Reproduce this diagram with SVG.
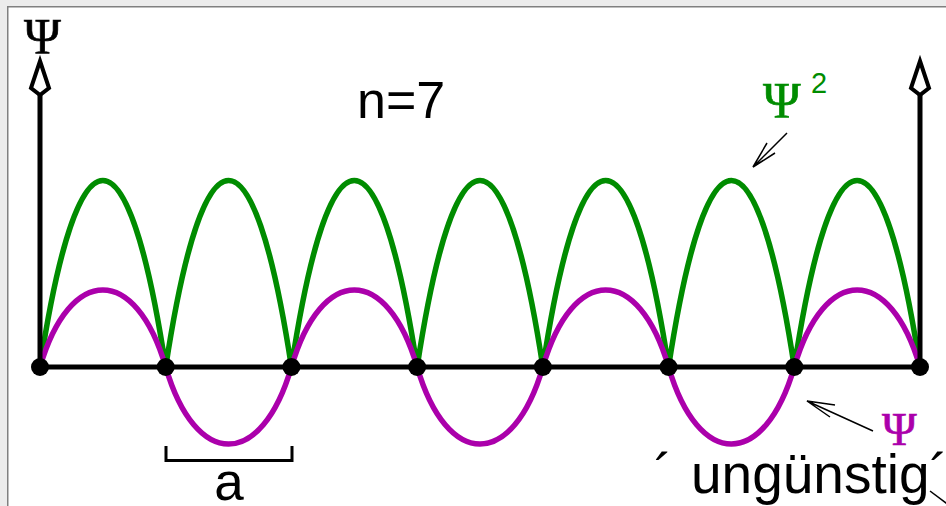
<svg xmlns="http://www.w3.org/2000/svg" width="946" height="506" viewBox="0 0 946 506">
<style>
.ax{stroke:#000;stroke-width:5;fill:none}
.ah{stroke:#000;stroke-width:4;fill:#fff;stroke-linejoin:miter}
.dot{fill:#000}
.thin{stroke:#000;stroke-width:1.5;fill:none}
.sans{font-family:"Liberation Sans",Arial,sans-serif}
.serif{font-family:"Liberation Serif","Times New Roman",serif;stroke-width:0.7}
</style>
<rect x="0" y="0" width="946" height="506" fill="#ececec"/>
<rect x="7.75" y="6.75" width="960" height="520" fill="#fff" stroke="#808080" stroke-width="1.5"/>
<g id="curves">
<path id="psi2" fill="none" stroke="#008c00" stroke-width="5.5" d="M40,367 C78,118.3 127.71,118.3 165.71,367 C203.71,118.3 253.43,118.3 291.43,367 C329.43,118.3 379.14,118.3 417.14,367 C455.14,118.3 504.86,118.3 542.86,367 C580.86,118.3 630.57,118.3 668.57,367 C706.57,118.3 756.29,118.3 794.29,367 C832.29,118.3 882,118.3 920,367"/>
<path id="psi" fill="none" stroke="#ab00ab" stroke-width="5.5" d="M40,367 C70,264.3 135.71,264.3 165.71,367 C195.71,469.7 261.43,469.7 291.43,367 C321.43,264.3 387.14,264.3 417.14,367 C447.14,469.7 512.86,469.7 542.86,367 C572.86,264.3 638.57,264.3 668.57,367 C698.57,469.7 764.29,469.7 794.29,367 C824.29,264.3 890,264.3 920,367"/>
</g>
<g id="axes">
<line class="ax" x1="40" y1="367" x2="920" y2="367"/>
<line class="ax" x1="40" y1="367" x2="40" y2="95"/>
<line class="ax" x1="920" y1="367" x2="920" y2="95"/>
<path class="ah" d="M40,61 L49,88 L40,95 L31,88 Z"/>
<path class="ah" d="M920,61 L929,88 L920,95 L911,88 Z"/>
</g>
<g id="nodes">
<circle class="dot" cx="40" cy="367" r="9"/>
<circle class="dot" cx="165.71" cy="367" r="9"/>
<circle class="dot" cx="291.43" cy="367" r="9"/>
<circle class="dot" cx="417.14" cy="367" r="9"/>
<circle class="dot" cx="542.86" cy="367" r="9"/>
<circle class="dot" cx="668.57" cy="367" r="9"/>
<circle class="dot" cx="794.29" cy="367" r="9"/>
<circle class="dot" cx="920" cy="367" r="9"/>
</g>
<g id="bracket">
<path class="ax" d="M166,446 V460.5 H292 V446" style="stroke-width:3"/>
</g>
<g id="connectors">
<path class="thin" d="M787,133 L753,167 M767,143 L753,167 L775,153"/>
<path class="thin" d="M873,431 L807,401 M835,405 L807,401 L830,417"/>
<path class="thin" d="M930,491 L950,506"/>
</g>
<g id="labels">
<text class="serif" x="24" y="53" font-size="50" fill="#000" stroke="#000">Ψ</text>
<text class="sans" x="357" y="118" font-size="52">n=7</text>
<text class="serif" x="763" y="117" font-size="51" fill="#008c00" stroke="#008c00">Ψ</text>
<text class="sans" x="811" y="93" font-size="29" fill="#008c00">2</text>
<text class="serif" x="882" y="445" font-size="47" fill="#ab00ab" stroke="#ab00ab">Ψ</text>
<text class="sans" x="229" y="500" font-size="53" text-anchor="middle">a</text>
<text class="sans" font-size="55" y="493"><tspan x="654">´</tspan><tspan x="691">ungünstig´</tspan></text>
</g>
</svg>
